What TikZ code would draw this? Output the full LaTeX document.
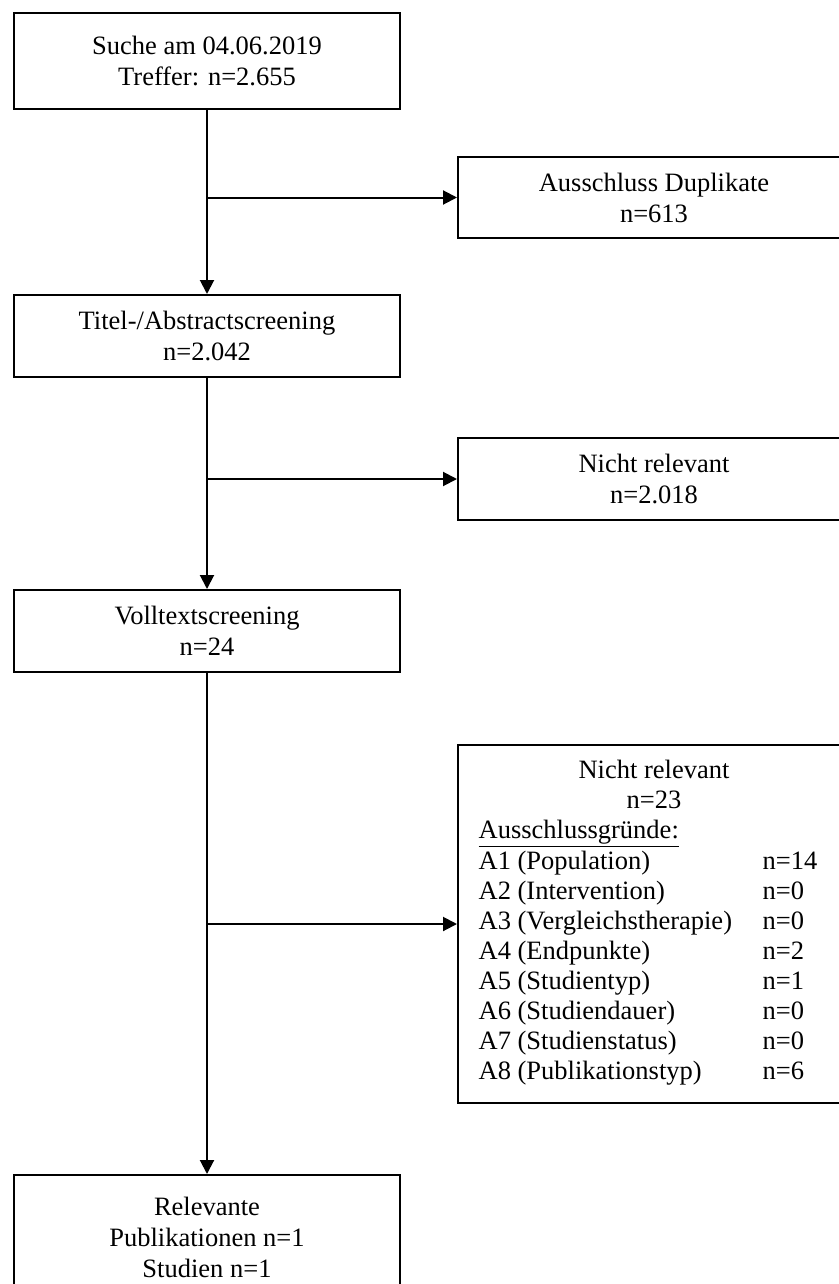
\documentclass[tikz,border=0pt]{standalone}
\usepackage{fontspec}
\setmainfont{Liberation Serif}
\usetikzlibrary{arrows.meta}

\tikzset{
  box/.style={draw, line width=1pt, align=center, inner sep=0pt,
    font=\fontsize{13.25}{15.5}\selectfont},
  leftbox/.style={box, minimum width=193pt},
  rightbox/.style={box, minimum width=196pt},
  flow/.style={line width=1pt, -{Triangle[length=7pt,width=7pt]}},
}
\newcommand{\grund}[2]{#1 & #2\\}

\begin{document}
\begin{tikzpicture}[x=0.5pt,y=-0.5pt]
\useasboundingbox (0,0) rectangle (839,1284);

\node[leftbox, minimum height=48pt] (such) at (207,61) {Suche am 04.06.2019\\Treffer: n=2.655};
\node[leftbox, minimum height=41pt] (titel) at (207,336) {Titel-/Abstractscreening\\n=2.042};
\node[leftbox, minimum height=41pt] (voll) at (207,631) {Volltextscreening\\n=24};
\node[leftbox, minimum height=62.5pt] (relev) at (207,1237.5) {Relevante\\Publikationen n=1\\Studien n=1};

\node[rightbox, minimum height=40.5pt] (dup) at (654,197.5) {Ausschluss Duplikate\\n=613};
\node[rightbox, minimum height=41pt] (nr1) at (654,479) {Nicht relevant\\n=2.018};
\node[rightbox, minimum height=179pt, font=\fontsize{13.25}{15}\selectfont] (nr2) at (654,924) {Nicht relevant\\n=23\\
  \begin{tabular}[t]{@{}p{142pt}@{}l@{\hspace{6pt}}}
  \multicolumn{2}{@{}l@{}}{\underline{Ausschlussgründe:}}\\
  \grund{A1 (Population)}{n=14}
  \grund{A2 (Intervention)}{n=0}
  \grund{A3 (Vergleichstherapie)}{n=0}
  \grund{A4 (Endpunkte)}{n=2}
  \grund{A5 (Studientyp)}{n=1}
  \grund{A6 (Studiendauer)}{n=0}
  \grund{A7 (Studienstatus)}{n=0}
  A8 (Publikationstyp) & n=6
  \end{tabular}};

% Abzweigungen
\coordinate (j1) at (such.south |- dup.west);
\coordinate (j2) at (titel.south |- nr1.west);
\coordinate (j3) at (voll.south |- nr2.west);

\draw[flow] (such.south) -- (titel.north);
\draw[flow] (titel.south) -- (voll.north);
\draw[flow] (voll.south) -- (relev.north);
\draw[flow] (j1) -- (dup.west);
\draw[flow] (j2) -- (nr1.west);
\draw[flow] (j3) -- (nr2.west);
\end{tikzpicture}
\end{document}
